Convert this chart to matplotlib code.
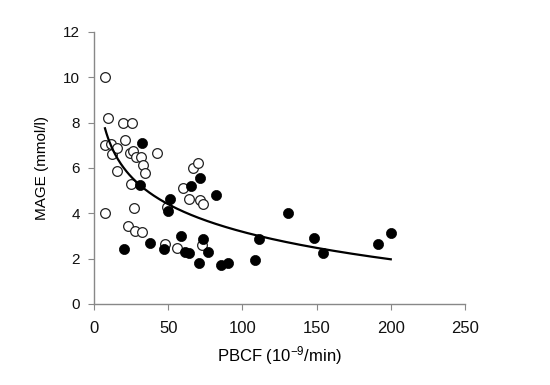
import numpy as np
import matplotlib
matplotlib.use("Agg")
import matplotlib.pyplot as plt

plt.rcParams["font.family"] = ["Liberation Sans", "DejaVu Sans"]
plt.rcParams["mathtext.fontset"] = "custom"
plt.rcParams["mathtext.rm"] = "Liberation Sans"
plt.rcParams["mathtext.it"] = "Liberation Sans:italic"

# open circles
open_x = [7.4, 9.4, 19.7, 25.4, 7.4, 11.2, 12.3, 15.7, 20.9, 24.3, 26.5, 28.1,
          31.4, 33.2, 34.2, 15.3, 42.2, 24.7, 7.4, 27.0, 23.1, 27.4, 32.1, 47.6,
          66.5, 70.3, 60.2, 64.2, 71.4, 73.7, 49.5, 56.1, 72.6]
open_y = [10.0, 8.2, 8.0, 8.0, 7.0, 7.06, 6.6, 6.87, 7.23, 6.68, 6.76, 6.5,
          6.5, 6.13, 5.79, 5.88, 6.68, 5.29, 4.03, 4.22, 3.44, 3.23, 3.19, 2.65,
          5.98, 6.24, 5.1, 4.62, 4.59, 4.41, 4.3, 2.46, 2.6]

# filled circles
fill_x = [32.6, 30.8, 51.2, 20.2, 37.7, 47.2, 71.4, 65.2, 82.2, 50.1, 58.4,
          61.3, 64.2, 73.2, 77.0, 71.0, 85.4, 90.5, 108.5, 111.4, 130.9, 148.2,
          154.1, 191.6, 200.1]
fill_y = [7.09, 5.25, 4.63, 2.41, 2.68, 2.41, 5.54, 5.2, 4.81, 4.12, 3.0,
          2.31, 2.26, 2.85, 2.31, 1.82, 1.72, 1.82, 1.94, 2.87, 4.03, 2.93,
          2.24, 2.65, 3.12]

# logarithmic trend line y = a + b*ln(x)
fit_a = 11.26
fit_b = -1.753
fit_x_range = [7.4, 200.0]

fig = plt.figure(figsize=(5.5, 3.85), dpi=100)
ax = fig.add_axes([0.1709, 0.2104, 0.6745, 0.7065])

ax.plot(open_x, open_y, "o", ms=7, mfc="white", mec="#222222", mew=0.9,
        linestyle="none", zorder=3)
ax.plot(fill_x, fill_y, "o", ms=7.3, mfc="black", mec="black", mew=0.5,
        linestyle="none", zorder=4)

xs = np.linspace(fit_x_range[0], fit_x_range[1], 200)
ax.plot(xs, fit_a + fit_b * np.log(xs), color="black", lw=1.6, zorder=5)

ax.set_xlim(0, 250)
ax.set_ylim(0, 12)
ax.set_xticks(range(0, 251, 50))
ax.set_yticks(range(0, 13, 2))

for side in ["top", "right"]:
    ax.spines[side].set_visible(False)
for side in ["left", "bottom"]:
    ax.spines[side].set_color("#888888")
    ax.spines[side].set_linewidth(1.0)

ax.tick_params(axis="both", direction="out", length=4, width=0.8,
               color="#888888", labelcolor="#111111")
ax.tick_params(axis="y", pad=6, labelsize=11)
ax.tick_params(axis="x", pad=8, labelsize=12)

ax.set_xlabel(r"PBCF (10$^{\mathrm{-9}}$/min)", fontsize=12, labelpad=6)
ax.set_ylabel("MAGE (mmol/l)", fontsize=11, labelpad=10)

fig.savefig("out.png", dpi=100)
